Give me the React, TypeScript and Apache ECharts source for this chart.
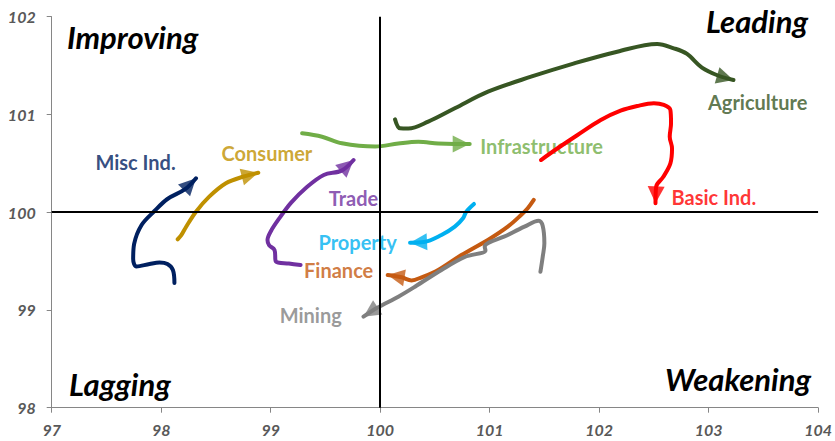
import React, { useEffect, useRef } from 'react';
import * as echarts from 'echarts';

// axis ranges (relative strength ratio on x, momentum on y)
const X_MIN = 97;
const X_MAX = 104;
const Y_MIN = 98;
const Y_MAX = 102;
const CENTER = 100;

const sectorNames = ['Misc Ind.', 'Consumer', 'Trade', 'Infrastructure', 'Agriculture', 'Basic Ind.', 'Property', 'Finance', 'Mining'];
const sectorColors = ['#002060', '#BF9000', '#7030A0', '#70AD47', '#375623', '#FF0000', '#00B0F0', '#C55A11', '#7F7F7F'];

// trails: [RS-ratio, RS-momentum], oldest -> newest (last point = arrow tip)
const miscInd = [[98.121, 99.276], [98.107, 99.409], [98.057, 99.47], [97.985, 99.485], [97.894, 99.47], [97.775, 99.444], [97.744, 99.521], [97.753, 99.675], [97.821, 99.869], [97.939, 100.012], [98.057, 100.135], [98.219, 100.235], [98.318, 100.347]];
const consumer = [[98.151, 99.723], [98.182, 99.762], [98.227, 99.849], [98.318, 100.005], [98.439, 100.159], [98.591, 100.296], [98.753, 100.365], [98.887, 100.404]];
const trade = [[99.273, 99.46], [99.166, 99.475], [99.048, 99.496], [99.035, 99.613], [98.985, 99.664], [98.971, 99.715], [99.003, 99.808], [99.075, 99.931], [99.185, 100.095], [99.321, 100.248], [99.485, 100.381], [99.648, 100.425], [99.757, 100.534]];
const infrastructure = [[99.287, 100.807], [99.469, 100.772], [99.651, 100.705], [99.955, 100.672], [100.166, 100.703], [100.348, 100.721], [100.53, 100.703], [100.682, 100.698], [100.818, 100.698]];
const agriculture = [[100.136, 100.95], [100.182, 100.858], [100.257, 100.856], [100.439, 100.926], [100.682, 101.063], [100.985, 101.233], [101.378, 101.386], [101.773, 101.523], [102.166, 101.642], [102.53, 101.721], [102.682, 101.677], [102.803, 101.619], [102.939, 101.48], [103.091, 101.396], [103.227, 101.352]];
const basicInd = [[101.469, 100.534], [101.621, 100.654], [101.803, 100.79], [102.015, 100.943], [102.196, 101.038], [102.348, 101.086], [102.5, 101.114], [102.591, 101.097], [102.651, 101.046], [102.657, 100.909], [102.645, 100.772], [102.666, 100.654], [102.651, 100.5], [102.585, 100.36], [102.521, 100.261], [102.515, 100.091]];
const property = [[100.857, 100.084], [100.787, 100.005], [100.757, 99.938], [100.682, 99.852], [100.56, 99.767], [100.4, 99.695], [100.273, 99.688]];
const finance = [[101.403, 100.125], [101.348, 100.04], [101.287, 99.971], [101.166, 99.852], [100.984, 99.716], [100.742, 99.562], [100.53, 99.409], [100.378, 99.334], [100.287, 99.302], [100.196, 99.334], [100.069, 99.357]];
const mining = [[101.464, 99.391], [101.485, 99.545], [101.5, 99.682], [101.485, 99.859], [101.448, 99.913], [101.318, 99.852], [101.166, 99.767], [100.955, 99.647], [100.962, 99.608], [100.773, 99.542], [100.56, 99.409], [100.318, 99.238], [100.166, 99.136], [99.969, 99.02], [99.848, 98.931]];

const trails = [miscInd, consumer, trade, infrastructure, agriculture, basicInd, property, finance, mining];

// where each sector's name is written (data coordinates)
const labelAnchors = [[97.766, 100.514], [98.966, 100.606], [99.757, 100.145], [101.475, 100.677], [103.448, 101.127], [103.048, 100.155], [99.794, 99.695], [99.621, 99.409], [99.366, 98.948]];

const quadrantNames = ['Improving', 'Leading', 'Lagging', 'Weakening'];

const FONT = 'Lato, "Open Sans", sans-serif';
const ARROW_W = 17;
const ARROW_H = 17;

export default function App() {
  const ref = useRef<HTMLDivElement>(null);

  useEffect(() => {
    const chart = echarts.init(ref.current as HTMLDivElement, null, { renderer: 'svg' });

    const lineSeries = trails.map((pts, i) => ({
      type: 'line',
      name: sectorNames[i],
      data: pts,
      smooth: 0.35,
      showSymbol: false,
      symbol: 'none',
      silent: true,
      z: 3,
      lineStyle: { color: sectorColors[i], width: 4, cap: 'round', join: 'round' },
    }));

    const labelSeries = {
      type: 'scatter',
      name: 'labels',
      silent: true,
      z: 2,
      symbol: 'circle',
      symbolSize: 1,
      itemStyle: { color: 'rgba(0,0,0,0)' },
      data: labelAnchors.map((p, i) => ({
        name: sectorNames[i],
        value: p,
        label: {
          show: true,
          position: 'inside',
          formatter: '{b}',
          color: sectorColors[i],
          fontFamily: FONT,
          fontWeight: 'bold',
          fontSize: 20,
        },
      })),
      markLine: {
        silent: true,
        symbol: 'none',
        label: { show: false },
        lineStyle: { color: '#000000', width: 2, type: 'solid' },
        data: [{ xAxis: CENTER }, { yAxis: CENTER }],
      },
    };

    const axisLabel = {
      fontFamily: FONT,
      fontStyle: 'italic',
      fontWeight: 'bold',
      fontSize: 16,
      color: '#595959',
    };

    const qFont = `italic bold 31px ${FONT}`;

    const baseOption: any = {
      animation: false,
      backgroundColor: '#ffffff',
      grid: { left: 51.7, right: 13.7, top: 16.7, bottom: 33.3, containLabel: false },
      xAxis: {
        type: 'value',
        min: X_MIN,
        max: X_MAX,
        interval: 1,
        axisLine: { show: true, onZero: false, lineStyle: { color: '#868686', width: 1 } },
        axisTick: { show: true, length: 5, lineStyle: { color: '#868686' } },
        axisLabel: { ...axisLabel, margin: 14 },
        splitLine: { show: false },
      },
      yAxis: {
        type: 'value',
        min: Y_MIN,
        max: Y_MAX,
        interval: 1,
        axisLine: { show: true, onZero: false, lineStyle: { color: '#868686', width: 1 } },
        axisTick: { show: true, length: 5, lineStyle: { color: '#868686' } },
        axisLabel: { ...axisLabel, margin: 16 },
        splitLine: { show: false },
      },
      graphic: [
        { type: 'text', x: 67, y: 37, style: { text: quadrantNames[0], font: qFont, fill: '#000', textAlign: 'left', textVerticalAlign: 'middle' } },
        { type: 'text', x: 808, y: 21, style: { text: quadrantNames[1], font: qFont, fill: '#000', textAlign: 'right', textVerticalAlign: 'middle' } },
        { type: 'text', x: 69, y: 384, style: { text: quadrantNames[2], font: qFont, fill: '#000', textAlign: 'left', textVerticalAlign: 'middle' } },
        { type: 'text', x: 811, y: 379, style: { text: quadrantNames[3], font: qFont, fill: '#000', textAlign: 'right', textVerticalAlign: 'middle' } },
      ],
      series: [labelSeries, ...lineSeries],
    };

    chart.setOption(baseOption);

    // arrow heads: oriented along the last segment of each trail, tip on the newest point
    const arrowData = trails.map((pts, i) => {
      const tip = chart.convertToPixel({ gridIndex: 0 }, pts[pts.length - 1]) as number[];
      const prev = chart.convertToPixel({ gridIndex: 0 }, pts[pts.length - 2]) as number[];
      let dx = tip[0] - prev[0];
      let dy = tip[1] - prev[1];
      const len = Math.hypot(dx, dy) || 1;
      dx /= len;
      dy /= len;
      const c = [tip[0] - (dx * ARROW_H) / 2, tip[1] - (dy * ARROW_H) / 2];
      const v = chart.convertFromPixel({ gridIndex: 0 }, c) as number[];
      return {
        value: v,
        symbolRotate: (Math.atan2(-dx, -dy) * 180) / Math.PI,
        itemStyle: { color: sectorColors[i] },
      };
    });

    chart.setOption({
      series: [
        labelSeries,
        ...lineSeries,
        {
          type: 'scatter',
          name: 'arrows',
          silent: true,
          z: 4,
          symbol: 'triangle',
          symbolSize: [ARROW_W, ARROW_H],
          data: arrowData,
        },
      ],
    });

    return () => {
      chart.dispose();
    };
  }, []);

  return <div ref={ref} style={{ position: 'fixed', left: 0, top: 0, width: 835, height: 441 }} />;
}
